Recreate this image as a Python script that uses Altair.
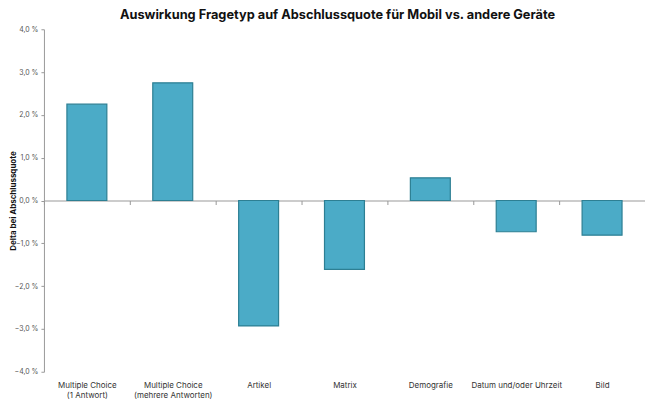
import altair as alt
import pandas as pd

categories = [
    "Multiple Choice|(1 Antwort)",
    "Multiple Choice|(mehrere Antworten)",
    "Artikel",
    "Matrix",
    "Demografie",
    "Datum und/oder Uhrzeit",
    "Bild",
]
values = [2.25, 2.75, -2.93, -1.61, 0.53, -0.73, -0.81]
y_ticks = [-4, -3, -2, -1, 0, 1, 2, 3, 4]

df = pd.DataFrame({"Fragetyp": categories, "Delta": values})

W, H = 602, 343
FONT = "Inter"

x_scale = alt.Scale(domain=categories, paddingInner=0, paddingOuter=0)
y_scale = alt.Scale(domain=[-4, 4], nice=False)

bars = alt.Chart(df).mark_bar(
    color="#4BABC7", stroke="#2D7F93", strokeWidth=1.2,
    width=alt.RelativeBandSize(0.465),
).encode(
    x=alt.X("Fragetyp:N", scale=x_scale, sort=categories,
            axis=alt.Axis(title=None, orient="bottom", offset=-H / 2,
                          domain=True, ticks=True, tickBand="extent",
                          domainColor="#999999", tickColor="#999999", tickSize=4,
                          labelAngle=0,
                          labelExpr="split(datum.label, '|')",
                          labelFontSize=8, labelColor="#333333", labelFont=FONT,
                          labelPadding=H / 2 + 6, labelLineHeight=10)),
    y=alt.Y("Delta:Q", scale=y_scale,
            axis=alt.Axis(title="Delta bei Abschlussquote", values=y_ticks,
                          labelExpr="replace(format(datum.value, '.1f'), '.', ',') + ' %'",
                          grid=False, domainColor="#999999", tickColor="#999999",
                          tickSize=3, labelFontSize=7, labelColor="#555555",
                          labelFont=FONT, labelPadding=3,
                          titleFont=FONT, titleFontSize=8, titleFontWeight="bold",
                          titleColor="#111111", titleX=-30, titleY=H / 2,
                          titleBaseline="middle", titleAngle=270)),
)

chart = bars.properties(
    width=W,
    height=H,
    title=alt.TitleParams(
        "Auswirkung Fragetyp auf Abschlussquote für Mobil vs. andere Geräte",
        font=FONT, fontSize=12.8, fontWeight="bold", color="#111111",
        anchor="middle", offset=3, dx=-7,
    ),
    autosize=alt.AutoSizeParams(type="none"),
    padding={"left": 36, "top": 21, "right": 0, "bottom": 30},
).configure_view(stroke=None)

chart.save("out.html", embed_options={"renderer": "svg", "actions": False})
